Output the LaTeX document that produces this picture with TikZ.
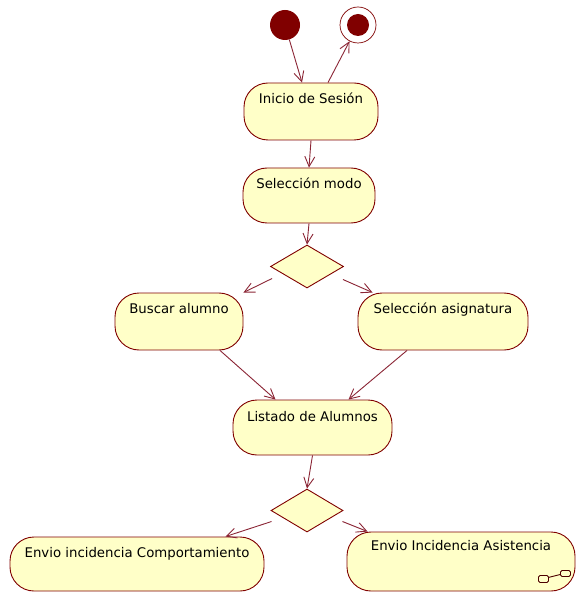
\documentclass[tikz,border=0pt]{standalone}
\usepackage{fontspec}
\setmainfont{DejaVu Sans}
\usetikzlibrary{shapes.geometric,arrows.meta,calc}
\definecolor{boxfill}{HTML}{FFFFC8}
\definecolor{boxline}{HTML}{800000}
\definecolor{arrline}{HTML}{8B2535}
\definecolor{dotred}{HTML}{800000}
\begin{document}
\begin{tikzpicture}[x=1pt,y=-1pt,
  act/.style={draw=boxline, fill=boxfill, line width=0.9pt, rounded corners=24pt, rectangle, inner sep=0pt},
  txt/.style={font=\fontsize{13.3}{15}\selectfont, inner sep=0pt, text=black},
  dec/.style={draw=boxline, fill=boxfill, line width=0.9pt, diamond, inner sep=0pt},
  flow/.style={draw=arrline, line width=0.9pt, -{Straight Barb[length=10pt,width=10pt,line width=0.9pt]}}
]
\useasboundingbox (0,0) rectangle (577,593);
\fill[white] (0,0) rectangle (577,593);

\node[circle, fill=dotred, minimum size=30pt, inner sep=0pt] (start) at (285,25) {};
\node[circle, draw=boxline, line width=0.7pt, fill=white, minimum size=36pt, inner sep=0pt,
  path picture={\fill[dotred] (path picture bounding box.center) circle (11pt);}] (fin) at (358,25) {};

\node[act, minimum width=134pt, minimum height=57pt,
  label={[txt, anchor=base, yshift=-21pt]north:Inicio de Sesión}] (ini) at (311,111.5) {};
\node[act, minimum width=132pt, minimum height=55pt,
  label={[txt, anchor=base, yshift=-21pt]north:Selección modo}] (sel) at (309,195.5) {};
\node[dec, minimum width=73pt, minimum height=43pt] (d1) at (307,266.5) {};
\node[act, minimum width=128pt, minimum height=57pt,
  label={[txt, anchor=base, yshift=-21pt]north:Buscar alumno}] (bus) at (179,321.5) {};
\node[act, minimum width=170pt, minimum height=57pt,
  label={[txt, anchor=base, yshift=-21pt]north:Selección asignatura}] (asig) at (443,321.5) {};
\node[act, minimum width=159pt, minimum height=55pt,
  label={[txt, anchor=base, yshift=-22pt]north:Listado de Alumnos}] (lis) at (312.5,427.5) {};
\node[dec, minimum width=72pt, minimum height=43pt] (d2) at (307,510.5) {};
\node[act, minimum width=254pt, minimum height=54pt,
  label={[txt, anchor=base, yshift=-21pt]north:Envio incidencia Comportamiento}] (com) at (137,564) {};
\node[act, minimum width=228pt, minimum height=59pt,
  label={[txt, anchor=base, yshift=-19pt]north:Envio Incidencia Asistencia}] (asi) at (461,561.5) {};

% sub-activity icon
\draw[draw=boxline!60!black, line width=0.9pt, rounded corners=1.5pt]
  ($(asi.south east)+(-37,-16)$) rectangle ($(asi.south east)+(-27,-9)$);
\draw[draw=boxline!60!black, line width=0.9pt, rounded corners=1.5pt]
  ($(asi.south east)+(-15,-21)$) rectangle ($(asi.south east)+(-5,-15)$);
\draw[draw=boxline!60!black, line width=0.9pt]
  ($(asi.south east)+(-27,-14)$) -- ($(asi.south east)+(-15,-17)$);

\draw[flow] (start) -- ($(ini.north)+(-9,0)$);
\draw[flow] ($(ini.north)+(17,0)$) -- (fin);
\draw[flow] (ini.south) -- (sel.north);
\draw[flow] (sel.south) -- (d1.north);
\draw[flow] ($(d1.west)+(2,12)$) -- (bus.north east);
\draw[flow] ($(d1.east)+(-1,13)$) -- ($(asig.north west)+(15,0)$);
\draw[flow] ($(bus.south)+(41,0)$) -- ($(lis.north)+(-37,0)$);
\draw[flow] ($(asig.south)+(-36,0)$) -- ($(lis.north)+(36,0)$);
\draw[flow] (lis.south) -- (d2.north);
\draw[flow] ($(d2.west)+(1,11)$) -- ($(com.north east)+(-39,0)$);
\draw[flow] ($(d2.east)+(-1,11)$) -- ($(asi.north west)+(21,0)$);
\end{tikzpicture}
\end{document}
